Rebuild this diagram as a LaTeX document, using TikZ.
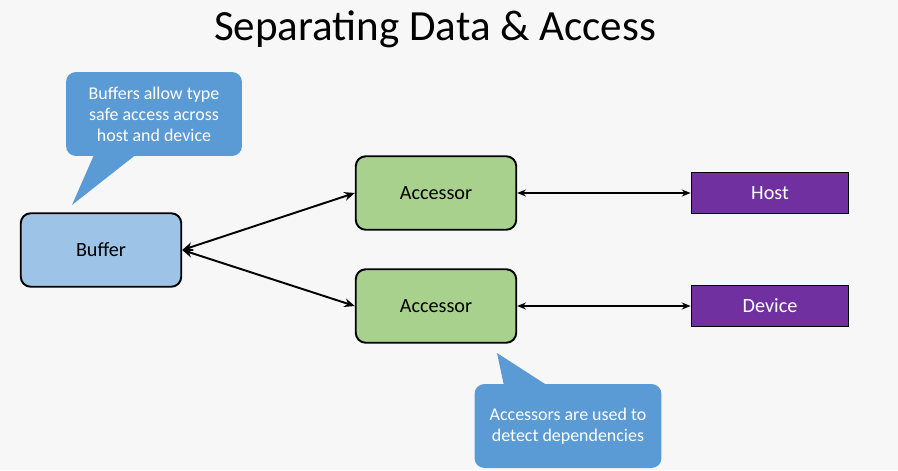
\documentclass[tikz,border=0pt]{standalone}
\usepackage{fontspec}
\setmainfont{Carlito}
\usetikzlibrary{arrows.meta,calc}
\definecolor{bgray}{RGB}{247,247,247}
\definecolor{callblue}{RGB}{91,155,213}
\definecolor{bufblue}{RGB}{157,195,230}
\definecolor{accgreen}{RGB}{169,209,142}
\definecolor{unitpurple}{RGB}{112,48,160}

\begin{document}
\begin{tikzpicture}[x=0.02cm,y=-0.02cm]
\tikzstyle{every node}=[font=\fontsize{11.5}{14}\selectfont]
\tikzstyle{box}=[draw, line width=1.1pt, rounded corners=0.2cm, minimum width=3.21cm, minimum height=1.47cm]
\tikzstyle{unit}=[draw, line width=1.1pt, fill=unitpurple, text=white, minimum width=3.14cm, minimum height=0.82cm]
\tikzstyle{callout}=[fill=callblue, text=white, rounded corners=0.2cm, align=center, minimum height=1.68cm, font=\fontsize{10.2}{11.9}\selectfont]
\tikzstyle{link}=[line width=1.1pt, {Stealth[length=6pt,width=5pt]}-{Stealth[length=6pt,width=5pt]}]
\tikzstyle{thinlink}=[line width=0.8pt, {Stealth[length=5pt,width=4pt]}-{Stealth[length=5pt,width=4pt]}]
\fill[bgray] (0,0) rectangle (898,470);
\node at (435,29) [font=\fontsize{24.5}{29}\selectfont] (title) {Separating Data \& Access};
\node at (101,250) [box, fill=bufblue] (buf) {Buffer};
\node at (436,193) [box, fill=accgreen] (acc1) {Accessor};
\node at (436,306) [box, fill=accgreen] (acc2) {Accessor};
\node at (770,193) [unit] (host) {Host};
\node at (770,306) [unit] (dev) {Device};
\node at (154,114) [callout, minimum width=3.52cm] (call1) {Buffers allow type\\safe access across\\host and device};
\node at (568,426) [callout, minimum width=3.74cm] (call2) {Accessors are used to\\detect dependencies};
\coordinate (tip1) at (72,205);
\coordinate (tip2) at (497,353);
\fill[callblue] ($(call1.south west)+(29,-3)$) -- (tip1) -- ($(call1.south west)+(72,-3)$) -- cycle;
\fill[callblue] ($(call2.north west)+(30,3)$) -- (tip2) -- ($(call2.north west)+(75,3)$) -- cycle;
\draw[link] (buf.east) -- (acc1.west);
\draw[link] (buf.east) -- (acc2.west);
\draw[thinlink] (acc1.east) -- (host.west);
\draw[thinlink] (acc2.east) -- (dev.west);
\end{tikzpicture}
\end{document}
